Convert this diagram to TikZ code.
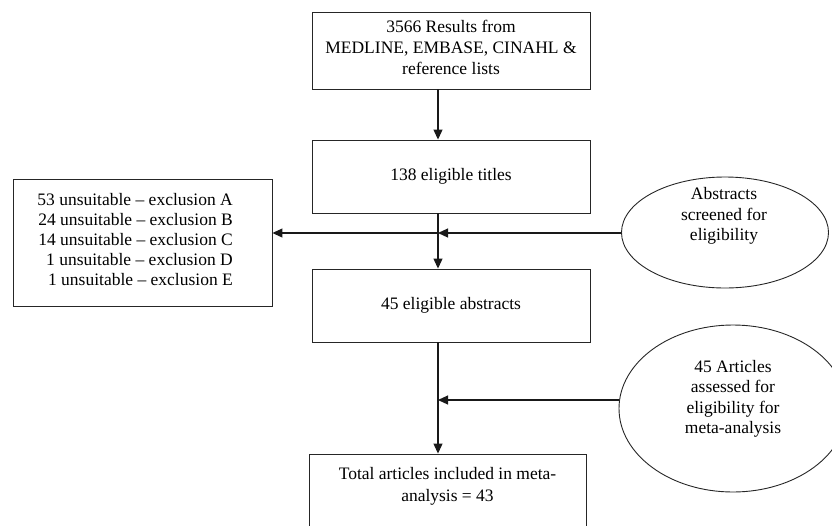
\documentclass[tikz,border=0pt]{standalone}
\usepackage{fontspec}
\setmainfont{Liberation Serif}
\usetikzlibrary{shapes.geometric,arrows.meta}
\begin{document}
\begin{tikzpicture}[x=1pt,y=-1pt,
 box/.style={draw=black!85,line width=0.9pt,rectangle,inner sep=0pt},
 txt/.style={font=\fontsize{17.5}{20.5}\selectfont,align=center,inner sep=0pt},
 oval/.style={draw=black!85,line width=0.9pt,ellipse,inner sep=0pt},
 arr/.style={line width=1.1pt,draw=black!90,-{Triangle[length=10pt,width=9pt]}}]
\useasboundingbox (0,0) rectangle (832,525);
\clip (0,0) rectangle (832,525);
% boxes
\node[box,minimum width=278pt,minimum height=77pt] (top) at (451,50.5) {};
\node[txt,font=\fontsize{17.5}{21}\selectfont] (toptxt) at (451,47) {3566 Results from\\MEDLINE, EMBASE, CINAHL \&\\reference lists};
\node[box,txt,draw=black!85,line width=0.9pt,minimum width=278pt,minimum height=73pt] (titles) at (451,176.5) {138 eligible titles};
\node[box,txt,draw=black!85,line width=0.9pt,minimum width=278pt,minimum height=73pt] (abstracts) at (451,305.5) {45 eligible abstracts};
\node[box,minimum width=277pt,minimum height=90pt] (final) at (447.5,499) {};
\node[txt,font=\fontsize{17.5}{22}\selectfont] (finaltxt) at (447.5,486) {Total articles included in meta-\\analysis = 43};
\node[box,minimum width=259pt,minimum height=127pt] (excl) at (142.5,242.5) {};
\node[txt,align=right,font=\fontsize{17.5}{20}\selectfont,anchor=east] (excltxt) at (233,240) {53 unsuitable -- exclusion A\\24 unsuitable -- exclusion B\\14 unsuitable -- exclusion C\\1 unsuitable -- exclusion D\\1 unsuitable -- exclusion E};
% ellipses
\node[oval,minimum width=207pt,minimum height=111pt] (ell1) at (725,232.5) {};
\node[txt,font=\fontsize{17.5}{20.5}\selectfont] (ell1txt) at (724,216) {Abstracts\\screened for\\eligibility};
\node[oval,minimum width=228pt,minimum height=167pt] (ell2) at (733,408.5) {};
\node[txt,font=\fontsize{17.5}{20.5}\selectfont] (ell2txt) at (733,399) {45 Articles\\assessed for\\eligibility for\\meta-analysis};
% connectors
\coordinate (x) at (438,0);
\coordinate (j1) at (438,233);
\coordinate (j2) at (438,400);
\draw[arr] (top.south -| x) -- (titles.north -| x);
\draw[arr] (titles.south -| x) -- (abstracts.north -| x);
\draw[arr] (abstracts.south -| x) -- (final.north -| x);
\draw[arr] (ell1.west |- j1) -- (j1);
\draw[arr] (j1) -- (excl.east |- j1);
\draw[arr] (ell2.west |- j2) -- (j2);
\end{tikzpicture}
\end{document}
